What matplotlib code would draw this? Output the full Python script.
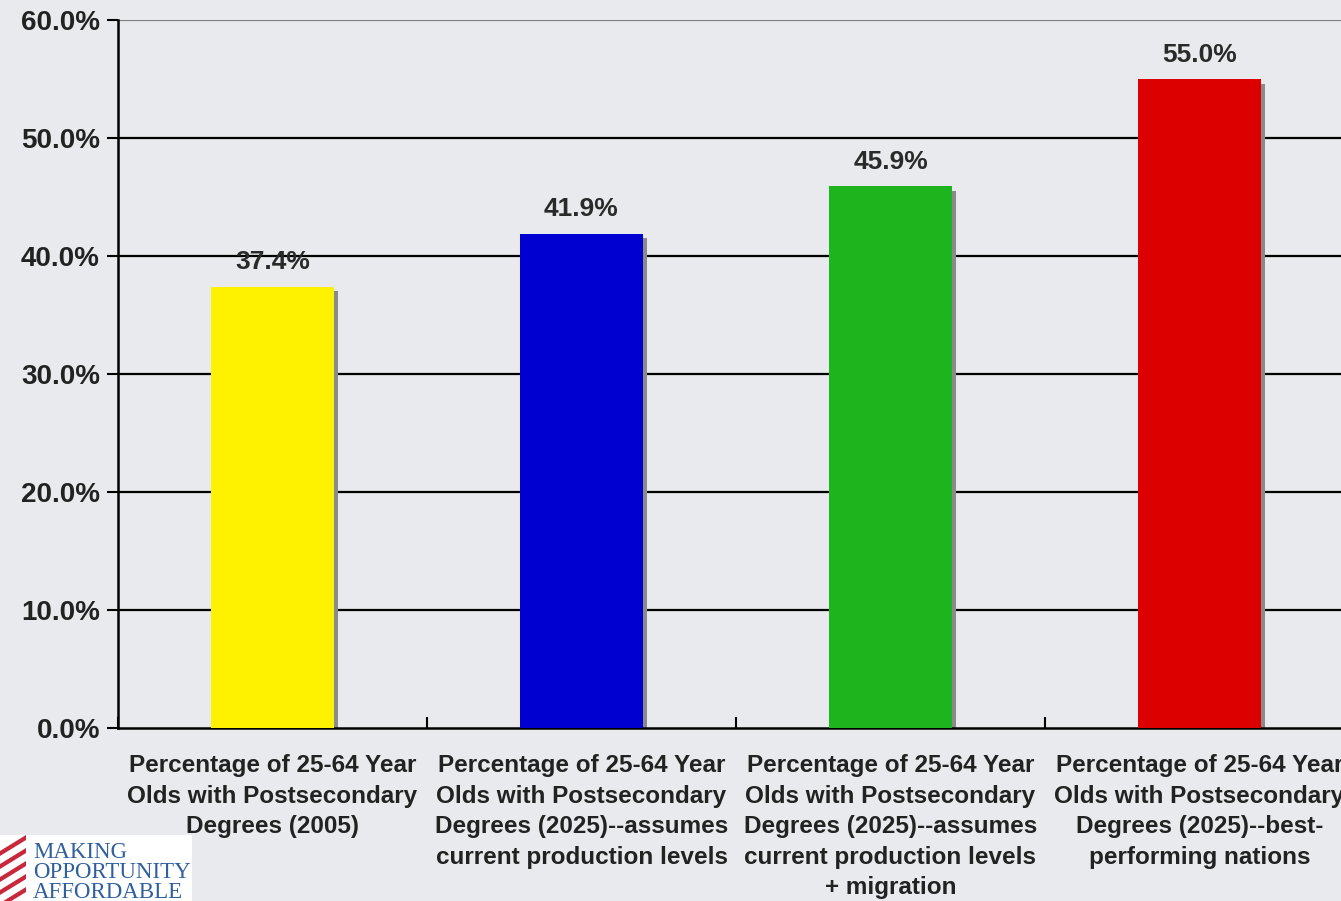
import matplotlib
matplotlib.use("Agg")
import matplotlib.pyplot as plt
from matplotlib.patches import Rectangle, Polygon
from matplotlib.ticker import FuncFormatter

# Data
categories = [
    "Percentage of 25-64 Year\nOlds with Postsecondary\nDegrees (2005)",
    "Percentage of 25-64 Year\nOlds with Postsecondary\nDegrees (2025)--assumes\ncurrent production levels",
    "Percentage of 25-64 Year\nOlds with Postsecondary\nDegrees (2025)--assumes\ncurrent production levels\n+ migration",
    "Percentage of 25-64 Year\nOlds with Postsecondary\nDegrees (2025)--best-\nperforming nations",
]
values = [0.374, 0.419, 0.459, 0.550]
colors = ["#fff200", "#0000d0", "#1eb41e", "#dd0000"]
yticks = [0.0, 0.1, 0.2, 0.3, 0.4, 0.5, 0.6]

plt.rcParams["font.family"] = ["Liberation Sans", "DejaVu Sans"]

W, H = 1341, 901
fig = plt.figure(figsize=(W / 100, H / 100), dpi=100)
bg = "#e9eaed"
fig.patch.set_facecolor(bg)

# axes run past the right edge like in the reference
left, right, top, bottom = 118, 1354, 20, 728
ax = fig.add_axes([left / W, 1 - bottom / H, (right - left) / W, (bottom - top) / H])
ax.set_facecolor(bg)
ax.set_xlim(-0.5, 3.5)
ax.set_ylim(0, 0.6)

# gridlines
for y in yticks[1:]:
    ax.axhline(y, color="#808080" if y == 0.6 else "black", lw=1.6, zorder=1)

x = range(len(values))
bar_w = 0.4
# shadows
sx, sy = 0.012, 0.004
for xi, v in zip(x, values):
    ax.add_patch(Rectangle((xi - bar_w / 2 + sx, 0), bar_w, v - sy,
                           facecolor="#8a8a8a", edgecolor="none", zorder=2))
ax.bar(x, values, width=bar_w, color=colors, zorder=3)

for xi, v in zip(x, values):
    ax.annotate(f"{v * 100:.1f}%", (xi, v), xytext=(0, 9), textcoords="offset points",
                ha="center", va="bottom", fontsize=19, fontweight="bold",
                color="#2a2a2a", zorder=4)

ax.set_yticks(yticks)
ax.yaxis.set_major_formatter(FuncFormatter(lambda v, p: f"{v * 100:.1f}%"))
ax.set_xticks([-0.5, 0.5, 1.5, 2.5, 3.5])
ax.set_xticklabels([])
ax.set_xticks(list(x), minor=True)
ax.set_xticklabels(categories, minor=True, fontsize=17.5, fontweight="bold",
                   color="#222222", linespacing=1.41)
ax.tick_params(axis="x", which="minor", length=0, pad=19)
ax.tick_params(axis="x", which="major", length=8, width=1.5, direction="in", color="black")
ax.tick_params(axis="y", length=8, width=1.5, direction="out", color="black", pad=5)
for lab in ax.get_yticklabels():
    lab.set_fontsize(20)
    lab.set_fontweight("bold")
    lab.set_color("#222222")

for s in ["top", "right"]:
    ax.spines[s].set_visible(False)
ax.spines["left"].set_linewidth(1.8)
ax.spines["bottom"].set_linewidth(1.8)

# logo in the lower left corner
fig.patches.append(Rectangle((0, 0), 192 / W, 66 / H, transform=fig.transFigure,
                             facecolor="white", edgecolor="none", zorder=5))
for i in range(5):
    y0 = (58 - i * 13) / H
    fig.patches.append(Polygon([(0, y0 - 8 / H), (26 / W, y0 + 8 / H),
                                (26 / W, y0 + 3 / H), (0, y0 - 13 / H)],
                               closed=True, transform=fig.transFigure,
                               facecolor="#c8283c", edgecolor="none", zorder=6))
fig.text(33 / W, 1 - 842 / H, "MAKING\nOPPORTUNITY\nAFFORDABLE", family="Liberation Serif",
         fontsize=16.5, color="#2f5f9f", va="top", ha="left", linespacing=0.95, zorder=7)

fig.savefig("out.png", dpi=100, facecolor=bg)
